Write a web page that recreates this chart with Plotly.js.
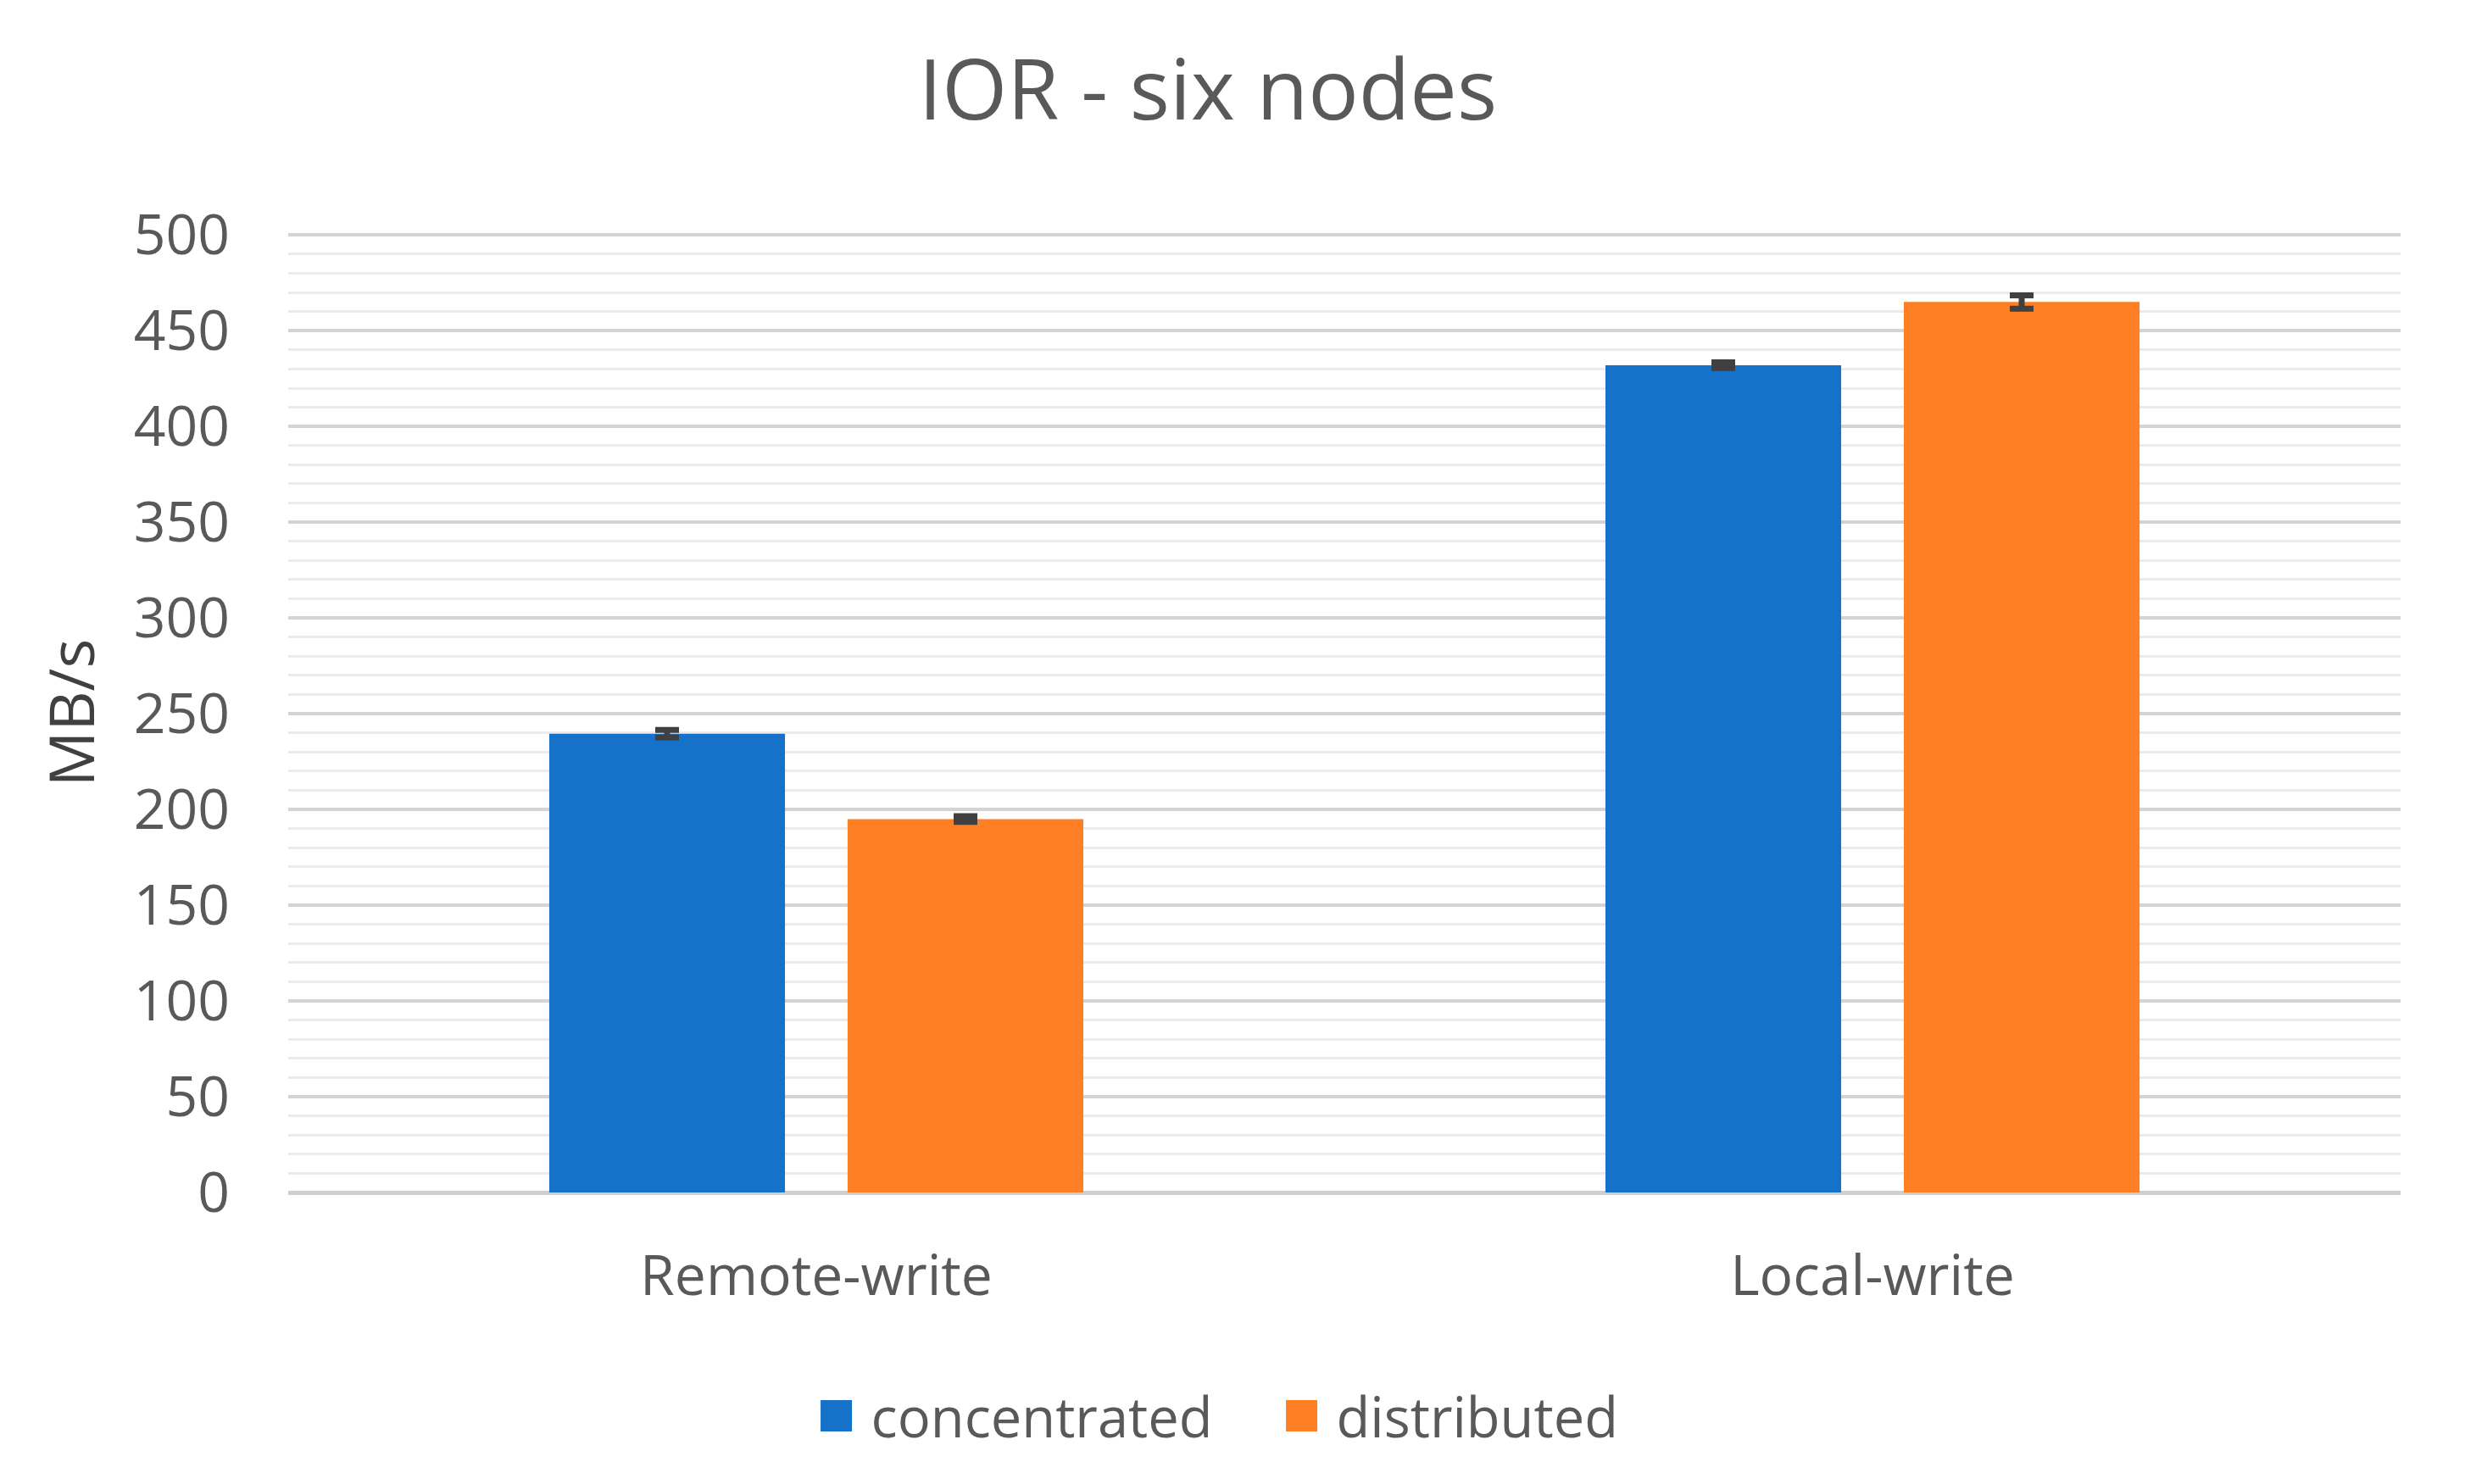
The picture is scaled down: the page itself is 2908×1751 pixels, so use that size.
<!DOCTYPE html>
<html>
<head>
<meta charset="utf-8">
<script src="https://cdn.plot.ly/plotly-3.0.1.min.js"></script>
<style>html,body{margin:0;padding:0;background:#fff;}#chart{width:2908px;height:1751px;}</style>
</head>
<body>
<div id="chart"></div>
<script>
const categories = ['Remote-write', 'Local-write'];
const seriesNames = ['concentrated', 'distributed'];
const concentrated = [239.5, 432];
const distributed = [195, 465];
const concentratedErr = [2, 1.5];
const distributedErr = [1.5, 3.5];
const yTickValues = [0, 50, 100, 150, 200, 250, 300, 350, 400, 450, 500];

const FONT = '"Open Sans", "Noto Sans", sans-serif';

const errStyle = {type: 'data', visible: true, color: '#404040', thickness: 7, width: 14};

const traces = [
  {type: 'bar', name: seriesNames[0], x: categories, y: concentrated,
   marker: {color: '#1672C8'}, error_y: Object.assign({array: concentratedErr}, errStyle)},
  {type: 'bar', name: seriesNames[1], x: categories, y: distributed,
   marker: {color: '#FF7F24'}, error_y: Object.assign({array: distributedErr}, errStyle)}
];

const layout = {
  width: 2908, height: 1751,
  paper_bgcolor: '#ffffff', plot_bgcolor: '#ffffff',
  margin: {l: 340, r: 76, t: 275, b: 344, pad: 0},
  font: {family: FONT, color: '#595959', size: 64},
  title: {text: 'IOR - six nodes', x: 0.49, xanchor: 'center', y: 0.939, yanchor: 'middle',
          font: {family: FONT, size: 99, color: '#595959'}},
  barmode: 'group', bargap: 0.435, bargroupgap: 0.21,
  xaxis: {type: 'category', showgrid: false, showline: false, zeroline: false, ticks: '',
          ticklabelstandoff: 54, tickfont: {size: 66, color: '#595959'}},
  yaxis: {range: [0, 501], tickvals: yTickValues, ticks: '', showline: false,
          showgrid: true, gridcolor: '#D4D4D4', gridwidth: 4,
          zeroline: true, zerolinecolor: '#CFCFCF', zerolinewidth: 5,
          minor: {dtick: 10, showgrid: true, gridcolor: '#EBEBEB', gridwidth: 3},
          ticklabelstandoff: 68, tickfont: {size: 66, color: '#595959'},
          title: {text: 'MB/s', standoff: 22, font: {size: 73, color: '#404040'}}},
  showlegend: true,
  legend: {orientation: 'h', x: 0.243, xanchor: 'left', y: -0.233, yanchor: 'middle',
           font: {size: 65, color: '#595959'}, itemwidth: 72, entrywidth: 462,
           traceorder: 'normal', bgcolor: 'rgba(0,0,0,0)'}
};

Plotly.newPlot('chart', traces, layout, {displayModeBar: false, staticPlot: true}).then(function () {
  document.querySelectorAll('.legend .legendpoints path').forEach(function (p) {
    p.setAttribute('d', 'M18.5,18.5H-18.5V-18.5H18.5Z');
  });
});
</script>
</body>
</html>
